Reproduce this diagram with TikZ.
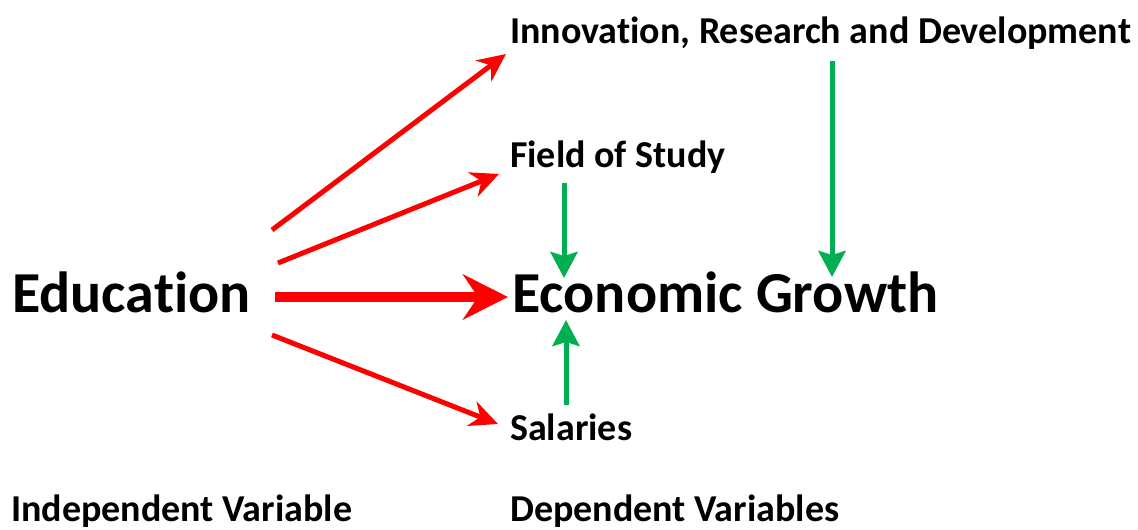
\documentclass[tikz,border=0pt]{standalone}
\usepackage{fontspec}
\setmainfont{Carlito}[RawFeature=-liga]
\usetikzlibrary{arrows.meta}
\definecolor{arrowred}{RGB}{255,0,0}
\definecolor{arrowgreen}{RGB}{0,176,80}
\begin{document}
\begin{tikzpicture}[x=1pt,y=-1pt,
  lbl/.style={anchor=base west,inner sep=0pt,font=\bfseries\fontsize{38}{44}\selectfont},
  biglbl/.style={anchor=base west,inner sep=0pt,font=\bfseries\fontsize{58}{64}\selectfont},
  redarrow/.style={draw=arrowred,line width=5pt,
    -{Stealth[length=28pt,width=26pt,inset=9pt]}},
  mainarrow/.style={draw=arrowred,line width=10pt,
    -{Stealth[length=45pt,width=45pt,inset=15pt]}},
  greenarrow/.style={draw=arrowgreen,line width=5pt,
    -{Stealth[length=26pt,width=27pt,inset=4pt]}}]
\useasboundingbox (0,0) rectangle (1138,530);

% labels
\node[lbl]    (ird)  at (510,43)  {Innovation, Research and Development};
\node[lbl]    (fos)  at (510,167) {Field of Study};
\node[biglbl] (edu)  at (12,312)  {Education};
\node[biglbl] (eg)   at (512,312) {Economic Growth};
\node[lbl]    (sal)  at (510,440) {Salaries};
\node[lbl]    (iv)   at (11,521)  {Independent Variable};
\node[lbl]    (dv)   at (510,521) {Dependent Variables};

% connector end points
\coordinate (e1) at (272,230);
\coordinate (e2) at (278,263);
\coordinate (e3) at (275,297);
\coordinate (e4) at (272,335);
\coordinate (t1) at (506,54);
\coordinate (t2) at (499,174);
\coordinate (t3) at (508,297);
\coordinate (t4) at (498,424);
\coordinate (fb) at (564,183);
\coordinate (ft) at (564,278);
\coordinate (rb) at (832,61);
\coordinate (rt) at (832,277);
\coordinate (sb) at (566,405);
\coordinate (st) at (566,320);

% education to the dependent variables
\draw[redarrow]  (e1) -- (t1);
\draw[redarrow]  (e2) -- (t2);
\draw[mainarrow] (e3) -- (t3);
\draw[redarrow]  (e4) -- (t4);

% dependent variables feeding growth
\draw[greenarrow] (fb) -- (ft);
\draw[greenarrow] (rb) -- (rt);
\draw[greenarrow] (sb) -- (st);
\end{tikzpicture}
\end{document}
